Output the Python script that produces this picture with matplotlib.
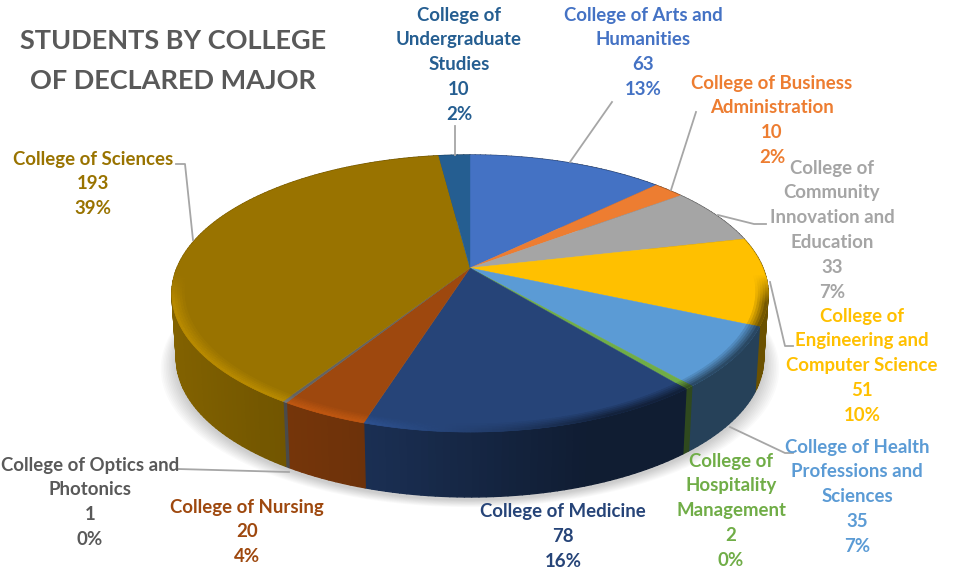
import numpy as np
import matplotlib
matplotlib.use('Agg')
import matplotlib.pyplot as plt
from matplotlib.collections import PolyCollection

plt.rcParams['font.family'] = ['Lato', 'DejaVu Sans']

# data, clockwise from 12 o'clock
colleges = ['College of Arts and\nHumanities', 'College of Business\nAdministration',
            'College of\nCommunity\nInnovation and\nEducation',
            'College of\nEngineering and\nComputer Science',
            'College of Health\nProfessions and\nSciences',
            'College of\nHospitality\nManagement', 'College of Medicine',
            'College of Nursing', 'College of Optics and\nPhotonics',
            'College of Sciences', 'College of\nUndergraduate\nStudies']
students = [63, 10, 33, 51, 35, 2, 78, 20, 1, 193, 10]
percents = ['13%', '2%', '7%', '10%', '7%', '0%', '16%', '4%', '0%', '39%', '2%']
colors = ['#4472C4', '#ED7D31', '#A5A5A5', '#FFC000', '#5B9BD5', '#70AD47',
          '#264478', '#9E480E', '#636363', '#997300', '#255E91']
text_colors = list(colors)
text_colors[8] = '#595959'

# label anchor (center x, top line y) in pixels
label_pos = [(643, 15), (772, 83), (832, 168), (862, 316), (857, 447), (731, 461),
             (563, 512), (247, 507), (90, 465), (93, 159), (459, 15)]
leaders = [[(612, 102), (570, 162)], [(696, 112), (671, 190)],
           [(718, 215), (754, 224), (766, 224)], [(770, 282), (785, 346), (793, 346)],
           [(730, 427), (785, 453), (793, 453)], [],
           [], [], [(178, 469), (289, 472)], [(176, 164), (185, 164), (193, 240)],
           [(455, 126), (455, 155)]]

# perspective of the pie disc
cx, cy = 470, 268
a, b, p = 293, 133.8, 0.184
depth = 65


def project(theta, r=1.0):
    u = r * np.sin(theta)
    v = r * np.cos(theta)
    w = 1 + p * v
    return cx + a * u / w, cy - b * v / w


def drop(x, y):
    return cx + (x - cx) * 0.985, y + depth


def to_rgb(c):
    return np.array(matplotlib.colors.to_rgb(c))


fig = plt.figure(figsize=(9.61, 5.69), dpi=100)
ax = fig.add_axes([0, 0, 1, 1])
ax.set_xlim(0, 961)
ax.set_ylim(569, 0)
ax.axis('off')

edges = np.concatenate([[0], np.cumsum(students)]) / sum(students) * 2 * np.pi

# soft shadow under the pie
t = np.linspace(0, 2 * np.pi, 300)
sx, sy = drop(*project(t))
for grow in np.linspace(16, 1, 10):
    ax.fill(cx + (sx - cx) * (1 + grow / 300), sy + 3 + grow * 0.45, color='#000000',
            alpha=0.02, lw=0, zorder=1)

# side wall, shaded by horizontal position
polys, cols = [], []
for i in range(len(students)):
    n = max(2, int((edges[i + 1] - edges[i]) / 0.02))
    th = np.linspace(edges[i], edges[i + 1], n)
    x, y = project(th)
    xb, yb = drop(x, y)
    base = to_rgb(colors[i])
    for j in range(n - 1):
        nx = (x[j] - cx) / 298
        k = np.interp(nx, [-1, -0.7, -0.3, 0.4, 1], [0.85, 0.76, 0.68, 0.42, 0.42])
        polys.append([(x[j], y[j]), (x[j + 1], y[j + 1]), (xb[j + 1], yb[j + 1]), (xb[j], yb[j])])
        cols.append(base * k)
ax.add_collection(PolyCollection(polys, facecolors=cols, edgecolors=cols, linewidths=1.0, zorder=2))

# top of the pie
for i in range(len(students)):
    th = np.linspace(edges[i], edges[i + 1], max(3, int((edges[i + 1] - edges[i]) / 0.01)))
    x, y = project(th)
    ax.fill(np.r_[cx, x], np.r_[cy, y], color=colors[i], lw=0.3, zorder=3)

# bevel along the front rim
polys, cols = [], []
rings = np.linspace(0.96, 1.0, 6)
for i in range(len(students)):
    n = max(2, int((edges[i + 1] - edges[i]) / 0.01))
    th = np.linspace(edges[i], edges[i + 1], n)
    base = to_rgb(colors[i])
    for j in range(n - 1):
        v = np.cos(th[j])
        if v > -0.05:
            continue
        nx = np.sin(th[j])
        m = np.interp(nx, [-1, -0.3, 0.1, 0.4, 1], [1.2, 1.2, 0.85, 0.5, 0.45])
        weight = np.clip((-0.05 - v) / 0.2, 0, 1)
        for q in range(len(rings) - 1):
            s = (q + 1) / (len(rings) - 1)
            x0, y0 = project(th[j], rings[q])
            x1, y1 = project(th[j + 1], rings[q])
            x2, y2 = project(th[j + 1], rings[q + 1])
            x3, y3 = project(th[j], rings[q + 1])
            polys.append([(x0, y0), (x1, y1), (x2, y2), (x3, y3)])
            cols.append(np.clip(base * (1 + (m - 1) * s * weight), 0, 1))
ax.add_collection(PolyCollection(polys, facecolors=cols, edgecolors=cols, linewidths=0.5, zorder=4))

# leader lines
for pts in leaders:
    if pts:
        ax.plot([q[0] for q in pts], [q[1] for q in pts], color='#A6A6A6', lw=1.3, zorder=5)

# labels
for name, val, pct, col, (lx, ly) in zip(colleges, students, percents, text_colors, label_pos):
    lines = name.split('\n') + [str(val), pct]
    for n, line in enumerate(lines):
        ax.text(lx, ly + n * 24.9, line, color=col, fontsize=13.4, fontweight='bold',
                ha='center', va='center', zorder=6)

ax.text(173, 41, 'STUDENTS BY COLLEGE', color='#595959', fontsize=19.5, fontweight='bold',
        ha='center', va='center', zorder=6)
ax.text(173, 81, 'OF DECLARED MAJOR', color='#595959', fontsize=19.5, fontweight='bold',
        ha='center', va='center', zorder=6)

plt.savefig('out.png', dpi=100)
